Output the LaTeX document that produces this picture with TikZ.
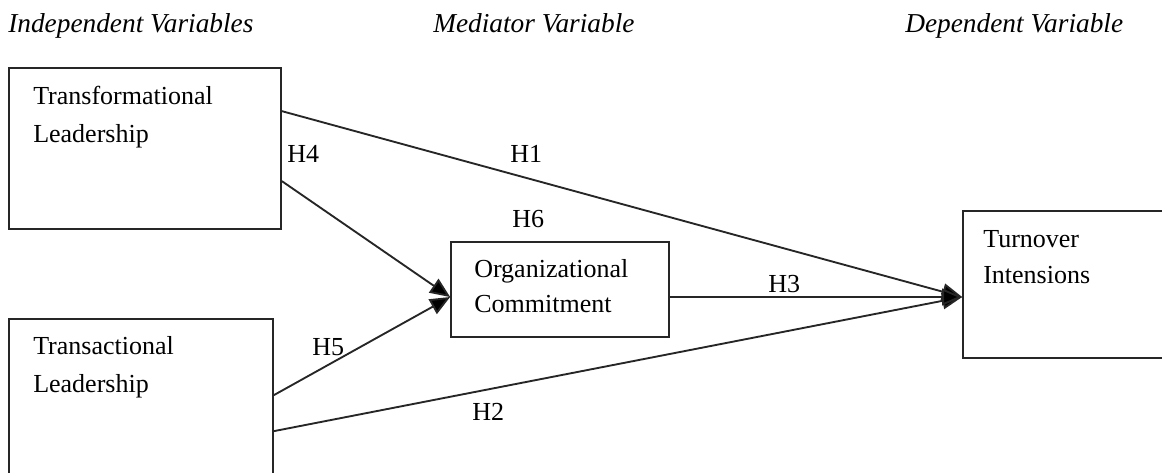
\documentclass[tikz,border=0pt]{standalone}
\usepackage{fontspec}
\setmainfont{Liberation Serif}
\usetikzlibrary{calc,arrows.meta}
\begin{document}
\begin{tikzpicture}[x=0.75pt,y=-0.75pt,
  box/.style={draw=black!85,line width=1.3pt,rectangle,inner sep=0pt},
  txt/.style={anchor=base west,inner sep=0pt,font=\fontsize{19.5}{23}\selectfont},
  hdr/.style={anchor=base west,inner sep=0pt,font=\fontsize{20.5}{24}\selectfont\itshape},
  lab/.style={anchor=base west,inner sep=0pt,font=\fontsize{19.5}{23}\selectfont},
  conn/.style={draw=black!85,line width=1.4pt},
  arr/.style={conn,-{Triangle[length=15pt,width=12.5pt,fill=black]}}]
\useasboundingbox (0,0) rectangle (1162,472);
\clip (0,0) rectangle (1162,472);
% headers
\node[hdr] (hind) at (8,32) {Independent Variables};
\node[hdr] (hmed) at (433,32) {Mediator Variable};
\node[hdr] (hdep) at (905,32) {Dependent Variable};
% boxes
\node[box,minimum width=204pt,minimum height=120.75pt] (tf) at (145,148.5) {};
\node[box,minimum width=198pt,minimum height=150.75pt] (ts) at (141,419.5) {};
\node[box,minimum width=163.5pt,minimum height=71.25pt] (oc) at (560,289.5) {};
\node[box,minimum width=177.75pt,minimum height=110.25pt] (ti) at (1081.5,284.5) {};
% box texts
\node[txt] (tf1) at (33,104) {Transformational};
\node[txt] (tf2) at (33,142) {Leadership};
\node[txt] (ts1) at (33,354) {Transactional};
\node[txt] (ts2) at (33,392) {Leadership};
\node[txt] (oc1) at (474,277) {Organizational};
\node[txt] (oc2) at (474,312) {Commitment};
\node[txt] (ti1) at (983,247) {Turnover};
\node[txt] (ti2) at (983,283) {Intensions};
% connection points
\coordinate (tfa) at ($(tf.north east)+(0,44)$);
\coordinate (tfb) at ($(tf.north east)+(0,114)$);
\coordinate (tsa) at ($(ts.north east)+(0,77)$);
\coordinate (tsb) at ($(ts.north east)+(0,113)$);
\coordinate (ocin) at ($(oc.west)+(0,7.5)$);
\coordinate (ocout) at ($(oc.east)+(0,7.5)$);
\coordinate (tiin) at ($(ti.west)+(0,12.5)$);
% connectors
\draw[arr] (tfa) -- (tiin);
\draw[arr] (tfb) -- (ocin);
\draw[arr] (tsa) -- (ocin);
\draw[arr] (tsb) -- (tiin);
\draw[arr] (ocout) -- (tiin);
% labels
\node[lab] (h4) at (287,162) {H4};
\node[lab] (h1) at (510,162) {H1};
\node[lab] (h6) at (512,227) {H6};
\node[lab] (h5) at (312,355) {H5};
\node[lab] (h2) at (472,420) {H2};
\node[lab] (h3) at (768,292) {H3};
\end{tikzpicture}
\end{document}
